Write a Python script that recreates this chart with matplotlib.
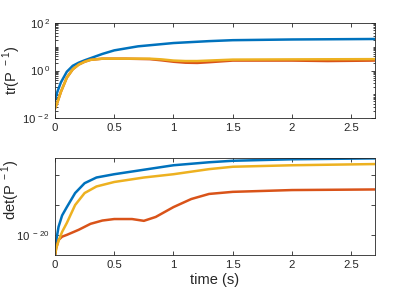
import numpy as np
import matplotlib.pyplot as plt
from matplotlib.ticker import LogLocator, FixedLocator, NullFormatter

plt.rcParams['font.family'] = ['Liberation Sans', 'DejaVu Sans']
plt.rcParams['mathtext.fontset'] = 'custom'
plt.rcParams['mathtext.rm'] = 'Liberation Sans'

# top panel: log10 of tr(P^-1)
t_blue_tr = [0, 0.02, 0.05, 0.1, 0.15, 0.2, 0.25, 0.3, 0.4, 0.5, 0.7, 1.0, 1.3, 1.5, 2.0, 2.7]
blue_tr = [-1.25, -0.9, -0.5, -0.05, 0.2, 0.33, 0.43, 0.52, 0.7, 0.85, 1.02, 1.16, 1.24, 1.28, 1.31, 1.33]
t_yel_tr = [0, 0.02, 0.05, 0.1, 0.15, 0.2, 0.25, 0.3, 0.4, 0.6, 0.8, 0.9, 1.0, 1.1, 1.2, 1.3, 1.5, 2.0, 2.7]
yel_tr = [-1.6, -1.35, -0.9, -0.3, 0.05, 0.25, 0.37, 0.45, 0.5, 0.5, 0.5, 0.47, 0.42, 0.4, 0.4, 0.42, 0.46, 0.47, 0.48]
t_ora_tr = [0, 0.02, 0.05, 0.1, 0.15, 0.2, 0.25, 0.3, 0.4, 0.6, 0.8, 0.9, 1.0, 1.1, 1.2, 1.3, 1.5, 2.0, 2.3, 2.7]
ora_tr = [-1.6, -1.35, -0.9, -0.3, 0.05, 0.25, 0.37, 0.45, 0.5, 0.5, 0.48, 0.43, 0.37, 0.33, 0.32, 0.35, 0.42, 0.42, 0.4, 0.42]

# bottom panel: log10 of det(P^-1)
t_blue_det = [0, 0.01, 0.03, 0.06, 0.1, 0.17, 0.25, 0.35, 0.5, 0.75, 1.0, 1.3, 1.5, 2.0, 2.7]
blue_det = [-27, -22.0, -17.3, -13.5, -10.7, -6.0, -2.7, -0.8, 0.3, 1.8, 3.3, 4.3, 4.8, 5.3, 5.6]
t_yel_det = [0, 0.01, 0.03, 0.06, 0.1, 0.17, 0.25, 0.35, 0.5, 0.75, 1.0, 1.3, 1.5, 2.0, 2.7]
yel_det = [-27, -24.5, -22.0, -19.0, -16.0, -10.0, -6.0, -3.8, -2.3, -0.8, 0.3, 2.0, 2.8, 3.3, 3.7]
t_ora_det = [0, 0.01, 0.03, 0.06, 0.1, 0.2, 0.3, 0.4, 0.5, 0.65, 0.75, 0.85, 1.0, 1.15, 1.3, 1.5, 2.0, 2.7]
ora_det = [-27, -24.5, -21.7, -20.6, -20.0, -18.3, -16.3, -15.2, -14.7, -14.7, -15.3, -14.0, -10.7, -8.0, -6.3, -5.6, -5.0, -4.8]

blue = (0, 0.447, 0.741)
orange = (0.85, 0.325, 0.098)
yellow = (0.929, 0.694, 0.125)
axcol = (0.15, 0.15, 0.15)

fig = plt.figure(figsize=(4.15, 2.89), dpi=100)
ax1 = fig.add_axes([0.1325, 0.592, 0.771, 0.328])
ax2 = fig.add_axes([0.1325, 0.118, 0.771, 0.335])

for ax in (ax1, ax2):
    ax.set_yscale('log')
    ax.set_xlim(0, 2.7)
    ax.set_xticks([0, 0.5, 1, 1.5, 2, 2.5])
    ax.set_xticklabels(['0', '0.5', '1', '1.5', '2', '2.5'])
    ax.tick_params(direction='in', top=True, right=True, which='both',
                   labelsize=8.2, colors=axcol, length=3, width=0.6)
    ax.tick_params(which='minor', length=1.8)
    for s in ax.spines.values():
        s.set_color(axcol)
        s.set_linewidth(0.6)

lw = 1.8
ax1.plot(t_blue_tr, 10 ** np.array(blue_tr), color=blue, lw=lw)
ax1.plot(t_ora_tr, 10 ** np.array(ora_tr), color=orange, lw=lw)
ax1.plot(t_yel_tr, 10 ** np.array(yel_tr), color=yellow, lw=lw)
ax1.set_ylim(1e-2, 1e2)
ax1.yaxis.set_major_locator(FixedLocator([1e-2, 1e0, 1e2]))
ax1.set_yticklabels(['10$^{\\,-2}$', '10$^{\\,0}$', '10$^{\\,2}$'])
ax1.yaxis.set_minor_locator(LogLocator(base=10, subs=np.arange(1, 10), numticks=20))
ax1.yaxis.set_minor_formatter(NullFormatter())
ax1.set_ylabel('tr(P$^{\\ -1}$)', fontsize=10.5, color=axcol)
ax1.yaxis.set_label_coords(-0.10, 0.5)

ax2.plot(t_blue_det, 10 ** np.array(blue_det), color=blue, lw=lw)
ax2.plot(t_ora_det, 10 ** np.array(ora_det), color=orange, lw=lw)
ax2.plot(t_yel_det, 10 ** np.array(yel_det), color=yellow, lw=lw)
ax2.set_ylim(10 ** -26.7, 10 ** 5.7)
ax2.yaxis.set_major_locator(FixedLocator([1e-20, 1e-10, 1e0]))
ax2.set_yticklabels(['10$^{\\ -20}$', '', ''])
ax2.yaxis.set_minor_locator(FixedLocator([]))
ax2.set_ylabel('det(P$^{\\ -1}$)', fontsize=10.5, color=axcol)
ax2.yaxis.set_label_coords(-0.103, 0.67)
ax2.set_xlabel('time (s)', fontsize=10.5, color=axcol, labelpad=2)

fig.savefig('out.png', dpi=100)
